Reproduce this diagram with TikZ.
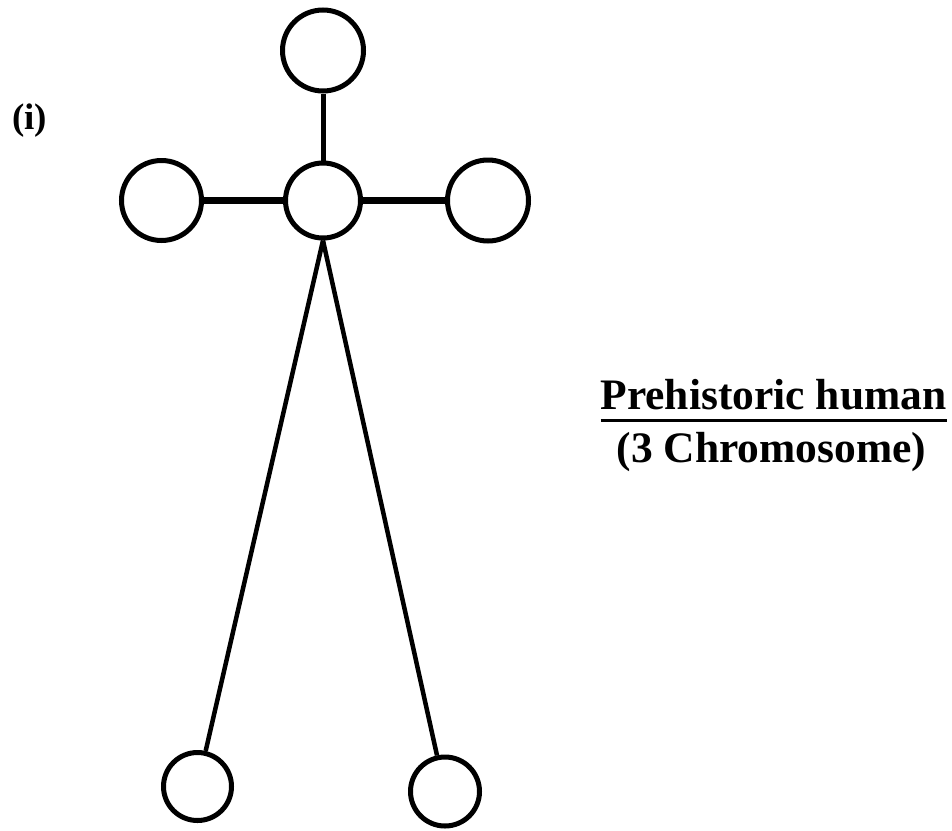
\documentclass[tikz,border=0pt]{standalone}
\usepackage{fontspec}
\setmainfont{Liberation Serif}
\newcommand\myul[1]{\setbox0\hbox{#1}\rlap{\rule[-12.5pt]{\wd0}{3pt}}\box0}
\begin{document}
\begin{tikzpicture}[x=1pt,y=-1pt,
  ball/.style={circle,draw=black,line width=5pt,inner sep=0pt,fill=white},
  link/.style={draw=black,line width=5pt},
  label/.style={inner sep=0pt,font=\bfseries\fontsize{43.5}{53}\selectfont,anchor=base}]
\useasboundingbox (0,0) rectangle (952,830);
\node[ball,minimum size=81pt] (top) at (323,50.5) {};
\node[ball,minimum size=75pt] (mid) at (323,200.5) {};
\node[ball,minimum size=80pt] (lft) at (161.5,200.5) {};
\node[ball,minimum size=81pt] (rgt) at (488,200.5) {};
\node[ball,minimum size=68pt] (bl) at (197.5,786.5) {};
\node[ball,minimum size=69pt] (br) at (445,791.5) {};
\draw[link] (top) -- (mid);
\draw[link,line width=6.5pt] (lft) -- (mid);
\draw[link,line width=6.5pt] (mid) -- (rgt);
\draw[link,line width=4.5pt] (mid.south) -- (bl);
\draw[link,line width=4.5pt] (mid.south) -- (br);
\node[label,font=\bfseries\fontsize{37}{44}\selectfont] (num) at (29.5,129) {(i)};
\node[label] (t1) at (773.5,409) {\myul{Prehistoric human}};
\node[label] (t2) at (771.5,462) {(3 Chromosome)};
\end{tikzpicture}
\end{document}
